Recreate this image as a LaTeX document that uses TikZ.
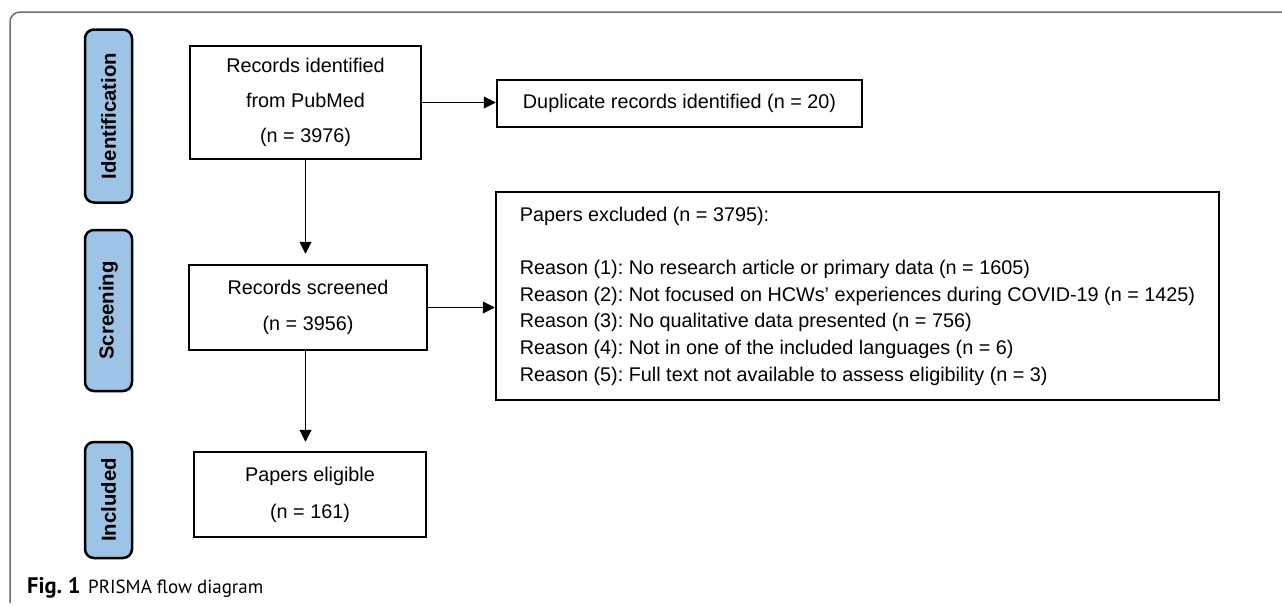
\documentclass[tikz,border=0pt]{standalone}
\usepackage{fontspec}
\setmainfont{Liberation Sans}
\newfontfamily\capfont{PT Sans}
\usetikzlibrary{arrows.meta}
\definecolor{pillblue}{RGB}{157,195,230}
\definecolor{framegray}{RGB}{110,110,110}
\begin{document}
\frenchspacing
\begin{tikzpicture}[x=1pt,y=-1pt,
  box/.style={draw=black, line width=2.5pt, inner sep=0pt, align=center, font=\fontsize{19.8}{35}\selectfont},
  pill/.style={draw=black, line width=2.5pt, fill=pillblue, rounded corners=9pt, inner sep=0pt, font=\fontsize{20.3}{24}\selectfont\bfseries},
  arr/.style={line width=1pt, -{Triangle[length=12pt,width=12pt]}},
  frameline/.style={draw=framegray, line width=1.5pt}]
\useasboundingbox (0,0) rectangle (1282,605);
\draw[frameline, rounded corners=10pt] (10,603) -- (10,12) -- (1282,12);
% stage pills
\node[pill, rotate=90, minimum width=173, minimum height=47] (pid) at (108.5,116) {Identification};
\node[pill, rotate=90, minimum width=161, minimum height=47] (pscr) at (108.5,310.5) {Screening};
\node[pill, rotate=90, minimum width=116, minimum height=47] (pinc) at (108.5,500) {Included};
% boxes
\node[box, minimum width=231, minimum height=113] (b1) at (305.5,102.5) {Records identified\\from PubMed\\(n = 3976)};
\node[box, minimum width=365, minimum height=47] (dup) at (679.5,103.5) {Duplicate records identified (n = 20)};
\node[box, minimum width=238, minimum height=85, font=\fontsize{19.8}{36}\selectfont] (scr) at (308,307.5) {Records screened\\(n = 3956)};
\node[box, minimum width=723, minimum height=208, align=left, font=\fontsize{19.8}{26.7}\selectfont] (excl) at (857.5,296) {Papers excluded (n = 3795):\\[26.7pt]
Reason (1): No research article or primary data (n = 1605)\\
Reason (2): Not focused on HCWs’ experiences during COVID-19 (n = 1425)\\
Reason (3): No qualitative data presented (n = 756)\\
Reason (4): Not in one of the included languages (n = 6)\\
Reason (5): Full text not available to assess eligibility (n = 3)};
\node[box, minimum width=232, minimum height=85, font=\fontsize{19.8}{37}\selectfont] (elig) at (310,494.5) {Papers eligible\\(n = 161)};
% arrows
\draw[arr] (b1.east) -- (b1.east -| dup.west);
\draw[arr] (scr.east) -- (scr.east -| excl.west);
\draw[arr, shorten >=10pt] (b1.south) -- (b1.south |- scr.north);
\draw[arr, shorten >=9pt] (b1.south |- scr.south) -- (b1.south |- elig.north);
% caption
\node[anchor=base west, inner sep=0pt, font=\capfont\fontsize{19}{21}\selectfont] (cap) at (27,593) {\makebox[61pt][l]{\fontsize{22.5}{23}\selectfont\bfseries Fig.\hspace{0.25em}1}PRISMA flow diagram};
\end{tikzpicture}
\end{document}
